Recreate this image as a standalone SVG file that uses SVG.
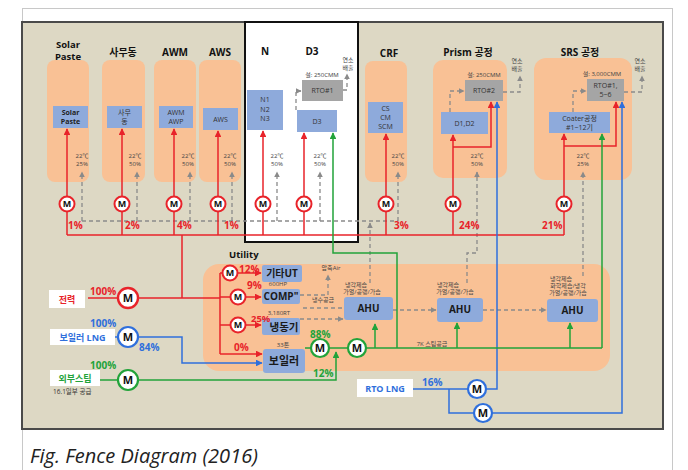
<svg xmlns="http://www.w3.org/2000/svg" width="688" height="470" viewBox="0 0 688 470">
<defs>
<marker id="ar" viewBox="0 0 10 10" refX="9" refY="5" markerWidth="4.5" markerHeight="4.5" orient="auto"><path d="M0,0L10,5L0,10z" fill="#e8232a"/></marker>
<marker id="ag" viewBox="0 0 10 10" refX="9" refY="5" markerWidth="4.5" markerHeight="4.5" orient="auto"><path d="M0,0L10,5L0,10z" fill="#22a33a"/></marker>
<marker id="ab" viewBox="0 0 10 10" refX="9" refY="5" markerWidth="4.5" markerHeight="4.5" orient="auto"><path d="M0,0L10,5L0,10z" fill="#2f6fdc"/></marker>
<marker id="ak" viewBox="0 0 10 10" refX="9" refY="5" markerWidth="4.5" markerHeight="4.5" orient="auto"><path d="M0,0L10,5L0,10z" fill="#8a8a8a"/></marker>
</defs>
<style>
text{font-family:"Open Sans","Noto Sans CJK KR",sans-serif;text-anchor:middle;}
.org{fill:#f9c195;}
.blu{fill:#8eaadb;}
.gry{fill:#a5a5a5;}
.ttl{font-size:10px;font-weight:bold;fill:#111;}
.bt{font-size:7px;fill:#333;}
.sm{font-size:6px;fill:#444;}
.pr{font-size:10px;font-weight:bold;fill:#e8232a;text-anchor:start;}
.pb{font-size:10px;font-weight:bold;fill:#2f6fdc;text-anchor:start;}
.pg{font-size:10px;font-weight:bold;fill:#22a33a;text-anchor:start;}
.lr{stroke:#e8232a;stroke-width:1.5;fill:none;}
.lg{stroke:#22a33a;stroke-width:1.5;fill:none;}
.lb{stroke:#2f6fdc;stroke-width:1.5;fill:none;}
.ld{stroke:#8a8a8a;stroke-width:1.3;fill:none;stroke-dasharray:4,3;}
.mr{fill:#fff;stroke:#e8232a;stroke-width:2;}
.mg{fill:#fff;stroke:#22a33a;stroke-width:2.2;}
.mb{fill:#fff;stroke:#2f6fdc;stroke-width:2.2;}
.m{font-size:9px;font-weight:bold;fill:#111;}
.mL{font-size:11px;font-weight:bold;fill:#111;}
.ub{font-size:10px;font-weight:bold;fill:#1a1a1a;}
</style>
<rect x="0" y="0" width="688" height="470" fill="#fff"/>
<rect x="22.5" y="8.5" width="650" height="470" fill="none" stroke="#c8c8c8" stroke-width="1"/>
<rect x="22" y="22" width="641" height="407" fill="#ddd8c4" stroke="#4a4a4a" stroke-width="2"/>
<rect x="245" y="22" width="113" height="220" fill="#fff" stroke="#111" stroke-width="2"/>
<text x="30" y="463" style="font-size:20px;font-style:italic;text-anchor:start;fill:#222;">Fig. Fence Diagram (2016)</text>

<g id="col-solar">
<rect class="org" x="47" y="60" width="42" height="122" rx="8"/>
<text class="ttl" x="68" y="47.5" style="font-size:9.5px">Solar</text><text class="ttl" x="68" y="60" style="font-size:9.5px">Paste</text>
<rect class="blu" x="53" y="106" width="35" height="22"/>
<text x="70.5" y="115" style="font-size:7px;font-weight:bold;fill:#222">Solar</text><text x="70.5" y="124" style="font-size:7px;font-weight:bold;fill:#222">Paste</text>
<text class="sm" x="82" y="158">22℃</text><text class="sm" x="82" y="166">25%</text>
</g>
<g id="col-office">
<rect class="org" x="102" y="60" width="43" height="122" rx="8"/>
<text class="ttl" x="123" y="56">사무동</text>
<rect class="blu" x="107" y="106" width="35" height="22"/>
<text class="bt" x="124.5" y="115">사무</text><text class="bt" x="124.5" y="124">동</text>
<text class="sm" x="135" y="158">22℃</text><text class="sm" x="135" y="166">50%</text>
</g>
<g id="col-awm">
<rect class="org" x="154" y="60" width="42" height="122" rx="8"/>
<text class="ttl" x="175" y="56">AWM</text>
<rect class="blu" x="159" y="106" width="34" height="22"/>
<text class="bt" x="176" y="115">AWM</text><text class="bt" x="176" y="124">AWP</text>
<text class="sm" x="188" y="158">22℃</text><text class="sm" x="188" y="166">50%</text>
</g>
<g id="col-aws">
<rect class="org" x="199" y="60" width="42" height="122" rx="8"/>
<text class="ttl" x="220" y="56">AWS</text>
<rect class="blu" x="203" y="108" width="35" height="22"/>
<text class="bt" x="220.5" y="122">AWS</text>
<text class="sm" x="230" y="158">22℃</text><text class="sm" x="230" y="166">50%</text>
</g>
<g id="col-n">
<text class="ttl" x="265" y="55">N</text>
<rect class="blu" x="247" y="90" width="36" height="40"/>
<text class="bt" x="265" y="102">N1</text><text class="bt" x="265" y="112">N2</text><text class="bt" x="265" y="121">N3</text>
<text class="sm" x="277" y="158">22℃</text><text class="sm" x="277" y="166">50%</text>
</g>
<g id="col-d3">
<text class="ttl" x="312" y="55">D3</text>
<text class="sm" x="322" y="77">설: 250CMM</text>
<rect class="gry" x="302" y="80" width="41" height="21"/>
<text class="bt" x="322.5" y="93">RTO#1</text>
<text class="sm" x="348" y="62">연소</text><text class="sm" x="348" y="70">배출</text>
<rect class="blu" x="297" y="110" width="40" height="22"/>
<text class="bt" x="317" y="124">D3</text>
<text class="sm" x="320" y="158">22℃</text><text class="sm" x="320" y="166">50%</text>
</g>
<g id="col-crf">
<rect class="org" x="365" y="61" width="42" height="121" rx="8"/>
<text class="ttl" x="389" y="57">CRF</text>
<rect class="blu" x="368" y="102" width="35" height="31"/>
<text class="bt" x="385.5" y="111">CS</text><text class="bt" x="385.5" y="120">CM</text><text class="bt" x="385.5" y="129">SCM</text>
<text class="sm" x="398" y="158">22℃</text><text class="sm" x="398" y="166">50%</text>
</g>
<g id="col-prism">
<rect class="org" x="433" y="60" width="74" height="118" rx="10"/>
<text class="ttl" x="468" y="56">Prism 공정</text>
<text class="sm" x="484" y="77">설: 250CMM</text>
<rect class="gry" x="465" y="80" width="38" height="21"/>
<text class="bt" x="484" y="93">RTO#2</text>
<text class="sm" x="517" y="63">연소</text><text class="sm" x="517" y="71">배출</text>
<rect class="blu" x="441" y="112" width="47" height="22"/>
<text class="bt" x="464.5" y="126">D1,D2</text>
<text class="sm" x="477" y="158">22℃</text><text class="sm" x="477" y="166">50%</text>
</g>
<g id="col-srs">
<rect class="org" x="534" y="58" width="98" height="122" rx="12"/>
<text class="ttl" x="580" y="56">SRS 공정</text>
<text class="sm" x="602" y="76">설: 3,000CMM</text>
<rect class="gry" x="587" y="79" width="37" height="22"/>
<text class="bt" x="605.5" y="88">RTO#1,</text><text class="bt" x="605.5" y="97">5~6</text>
<text class="sm" x="640" y="63">연소</text><text class="sm" x="640" y="71">배출</text>
<rect class="blu" x="549" y="112" width="61" height="21"/>
<text class="bt" x="579.5" y="121">Coater공정</text><text class="bt" x="579.5" y="130">#1~12기</text>
<text class="sm" x="583" y="158">22℃</text><text class="sm" x="583" y="166">25%</text>
</g>

<g id="utility">
<rect class="org" x="203" y="264" width="407" height="107" rx="16"/>
<text x="229" y="258" style="font-size:9.5px;font-weight:bold;fill:#111;text-anchor:start">Utility</text>
<rect class="blu" x="262" y="265" width="40" height="17" rx="2"/>
<text class="ub" x="282" y="277">기타UT</text>
<text class="sm" x="278" y="286">600HP</text>
<rect class="blu" x="262" y="289" width="38" height="15" rx="2"/>
<text class="ub" x="281" y="300">COMP"</text>
<text class="sm" x="279" y="315">3,180RT</text>
<rect class="blu" x="262" y="318" width="38" height="17" rx="2"/>
<text x="284" y="331" style="font-size:10.5px;font-weight:bold;fill:#1a1a1a">냉동기</text>
<text class="sm" x="283" y="347">33톤</text>
<rect class="blu" x="263" y="349" width="42" height="24" rx="3"/>
<text x="284" y="365" style="font-size:11px;font-weight:bold;fill:#1a1a1a">보일러</text>
<text class="sm" x="331" y="270">압축Air</text>
<text class="sm" x="323" y="302">냉수공급</text>
</g>
<g id="ahu1">
<rect class="blu" x="344" y="297" width="49" height="23" rx="3"/>
<text class="ub" x="368.5" y="312">AHU</text>
<text class="sm" x="356" y="287">냉각제습</text><text class="sm" x="362" y="294">가열/공랭/가습</text>
</g>
<g id="ahu2">
<rect class="blu" x="437" y="298" width="46" height="24" rx="3"/>
<text class="ub" x="460" y="313">AHU</text>
<text class="sm" x="448" y="287">냉각제습</text><text class="sm" x="455" y="294">가열/공랭/가습</text>
</g>
<g id="ahu3">
<rect class="blu" x="547" y="299" width="51" height="23" rx="3"/>
<text class="ub" x="572.5" y="314">AHU</text>
<text class="sm" x="561" y="281">냉각제습</text><text class="sm" x="568" y="288">화학제습/냉각</text><text class="sm" x="568" y="295">가열/공랭/가습</text>
</g>
<text class="sm" x="432" y="346">7K 스팀공급</text>

<g id="src-power">
<rect x="49" y="290" width="36" height="18" fill="#fff"/>
<text x="67" y="302.5" style="font-size:9px;font-weight:bold;fill:#e8232a">전력</text>
<text class="pr" x="90" y="295">100%</text>
</g>
<g id="src-lng">
<rect x="50" y="329" width="65" height="16" fill="#fff"/>
<text x="82.5" y="340.5" style="font-size:9px;font-weight:bold;fill:#2f6fdc">보일러 LNG</text>
<text class="pb" x="90" y="327">100%</text>
<text class="pb" x="139" y="351">84%</text>
</g>
<g id="src-steam">
<rect x="50" y="370" width="50" height="16" fill="#fff"/>
<text x="75" y="381.5" style="font-size:9px;font-weight:bold;fill:#22a33a">외부스팀</text>
<text class="pg" x="90" y="369">100%</text>
<text x="53" y="394" style="font-size:6.5px;fill:#333;text-anchor:start">16.1일부 공급</text>
</g>
<g id="src-rto">
<rect x="357" y="379" width="56" height="18" fill="#fff"/>
<text x="385" y="391.5" style="font-size:9px;font-weight:bold;fill:#2f6fdc">RTO LNG</text>
<text class="pb" x="422" y="386">16%</text>
</g>

<g id="connectors">
<path class="ld" d="M82,221H398"/>
<path class="ld" d="M82,221V172" marker-end="url(#ak)"/>
<path class="ld" d="M137,221V172" marker-end="url(#ak)"/>
<path class="ld" d="M190,221V172" marker-end="url(#ak)"/>
<path class="ld" d="M232,221V172" marker-end="url(#ak)"/>
<path class="ld" d="M277,221V172" marker-end="url(#ak)"/>
<path class="ld" d="M320,221V172" marker-end="url(#ak)"/>
<path class="ld" d="M398,221V172" marker-end="url(#ak)"/>
<path class="ld" d="M370,283V223" marker-end="url(#ak)"/>
<path class="ld" d="M467,283V253H477V172" marker-end="url(#ak)"/>
<path class="ld" d="M583,276V172" marker-end="url(#ak)"/>
<path class="ld" d="M296,110V91H301" marker-end="url(#ak)"/>
<path class="ld" d="M343,90H347V74" marker-end="url(#ak)"/>
<path class="ld" d="M450,112V91H464" marker-end="url(#ak)"/>
<path class="ld" d="M503,92H520V76" marker-end="url(#ak)"/>
<path class="ld" d="M573,112V91H586" marker-end="url(#ak)"/>
<path class="ld" d="M624,92H642V76" marker-end="url(#ak)"/>
<path class="ld" d="M300,295H328V275" marker-end="url(#ak)"/>
<path class="ld" d="M303,308H344"/>
<path class="ld" d="M300,319H343" marker-end="url(#ak)"/>
<path class="ld" d="M393,310H436" marker-end="url(#ak)"/>
<path class="ld" d="M483,310H546" marker-end="url(#ak)"/>
<path class="lr" d="M67,235H564"/>
<path class="lr" d="M67,235V211.5M122,235V211.5M174,235V211.5M218,235V211.5M263,235V211.5M304,235V211.5M386,235V211.5M453,235V211.5M564,235V211.5"/>
<path class="lr" d="M67,196.5V129" marker-end="url(#ar)"/>
<path class="lr" d="M122,196.5V129" marker-end="url(#ar)"/>
<path class="lr" d="M174,196.5V129" marker-end="url(#ar)"/>
<path class="lr" d="M218,196.5V131" marker-end="url(#ar)"/>
<path class="lr" d="M263,196.5V131" marker-end="url(#ar)"/>
<path class="lr" d="M304,196.5V133" marker-end="url(#ar)"/>
<path class="lr" d="M386,196.5V134" marker-end="url(#ar)"/>
<path class="lr" d="M453,196.5V135" marker-end="url(#ar)"/>
<path class="lr" d="M453,147H491V102" marker-end="url(#ar)"/>
<path class="lr" d="M564,196.5V134" marker-end="url(#ar)"/>
<path class="lr" d="M564,146H616V102" marker-end="url(#ar)"/>
<path class="lr" d="M182,235V298M88,298H118M138,298H220M220,273V354M220,273H222.5M220,297H230.5M220,325H230.5"/>
<path class="lr" d="M237.5,273H261" marker-end="url(#ar)"/>
<path class="lr" d="M245.5,297H261" marker-end="url(#ar)"/>
<path class="lr" d="M245.5,325H261" marker-end="url(#ar)"/>
<path class="lr" d="M220,354H262" marker-end="url(#ar)"/>
<path class="lb" d="M115,337H118"/>
<path class="lb" d="M138,337H182V363H262" marker-end="url(#ab)"/>
<path class="lb" d="M413,389H468M449,389V413H474"/>
<path class="lb" d="M486,389H497V102" marker-end="url(#ab)"/>
<path class="lb" d="M492,413H622V102" marker-end="url(#ab)"/>
<path class="lg" d="M100,380H118"/>
<path class="lg" d="M138,380H336V352" marker-end="url(#ag)"/>
<path class="lg" d="M305,348H311M329,348H348M366,348H602"/>
<path class="lg" d="M375,348V324" marker-end="url(#ag)"/>
<path class="lg" d="M457,348V323" marker-end="url(#ag)"/>
<path class="lg" d="M570,348V323" marker-end="url(#ag)"/>
<path class="lg" d="M397,348V253H333V133" marker-end="url(#ag)"/>
<path class="lg" d="M602,348V134" marker-end="url(#ag)"/>
</g>

<g id="meters">
<g><circle class="mr" cx="67" cy="204" r="7.5"/><text class="m" x="67" y="207.3">M</text></g>
<g><circle class="mr" cx="122" cy="204" r="7.5"/><text class="m" x="122" y="207.3">M</text></g>
<g><circle class="mr" cx="174" cy="204" r="7.5"/><text class="m" x="174" y="207.3">M</text></g>
<g><circle class="mr" cx="218" cy="204" r="7.5"/><text class="m" x="218" y="207.3">M</text></g>
<g><circle class="mr" cx="263" cy="204" r="7.5"/><text class="m" x="263" y="207.3">M</text></g>
<g><circle class="mr" cx="304" cy="204" r="7.5"/><text class="m" x="304" y="207.3">M</text></g>
<g><circle class="mr" cx="386" cy="204" r="7.5"/><text class="m" x="386" y="207.3">M</text></g>
<g><circle class="mr" cx="453" cy="204" r="7.5"/><text class="m" x="453" y="207.3">M</text></g>
<g><circle class="mr" cx="564" cy="204" r="7.5"/><text class="m" x="564" y="207.3">M</text></g>
<g><circle class="mr" cx="230" cy="273" r="7.5"/><text class="m" x="230" y="276.3">M</text></g>
<g><circle class="mr" cx="238" cy="297" r="7.5"/><text class="m" x="238" y="300.3">M</text></g>
<g><circle class="mr" cx="238" cy="325" r="7.5"/><text class="m" x="238" y="328.3">M</text></g>
<g><circle class="mr" cx="128" cy="298" r="10" style="stroke-width:2.4"/><text class="mL" x="128" y="302">M</text></g>
<g><circle class="mb" cx="128" cy="337" r="10"/><text class="mL" x="128" y="341">M</text></g>
<g><circle class="mg" cx="128" cy="380" r="10"/><text class="mL" x="128" y="384">M</text></g>
<g><circle class="mg" cx="320" cy="348" r="9"/><text class="mL" x="320" y="352">M</text></g>
<g><circle class="mg" cx="357" cy="348" r="9"/><text class="mL" x="357" y="352">M</text></g>
<g><circle class="mb" cx="477" cy="389" r="9"/><text class="mL" x="477" y="393">M</text></g>
<g><circle class="mb" cx="483" cy="413" r="9"/><text class="mL" x="483" y="417">M</text></g>
</g>

<g id="labels">
<text class="pr" x="68" y="229">1%</text>
<text class="pr" x="125" y="229">2%</text>
<text class="pr" x="177" y="229">4%</text>
<text class="pr" x="224" y="229">1%</text>
<text class="pr" x="394" y="229">3%</text>
<text class="pr" x="459" y="229">24%</text>
<text class="pr" x="542" y="229">21%</text>
<text class="pr" x="239" y="273">12%</text>
<text class="pr" x="247" y="289">9%</text>
<text class="pr" x="251" y="322" style="font-size:9.5px">25%</text>
<text class="pr" x="234" y="351">0%</text>
<text class="pg" x="310" y="337.5">88%</text>
<text class="pg" x="313" y="377">12%</text>
</g>
</svg>
